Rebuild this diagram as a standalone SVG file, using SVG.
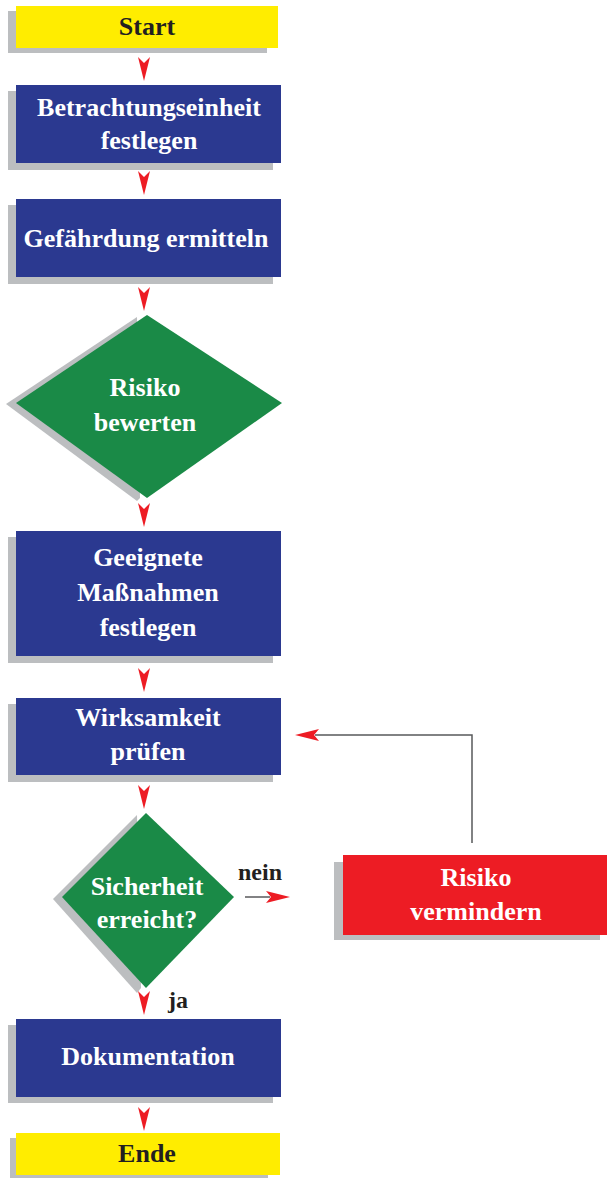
<svg xmlns="http://www.w3.org/2000/svg" width="609" height="1178" viewBox="0 0 609 1178">
<style>
.sh{fill:#BCBEC0}
.yel{fill:#FFED00}
.blu{fill:#2B3990}
.grn{fill:#1A8A47}
.red{fill:#ED1C24}
text{font-family:"Liberation Serif","Times New Roman",serif;font-weight:bold;font-size:26px;text-anchor:middle}
.w{fill:#FFFFFF}
.k{fill:#231F20}
.lbl{font-size:24px}
.ah{fill:#ED1C24}
.ln{stroke:#58595B;stroke-width:1.5;fill:none}
</style>
<defs>
<path id="dn" d="M-6,0 L0,6 L6,0 L0,24 Z"/>
</defs>
<rect width="609" height="1178" fill="#FFFFFF"/>
<g id="start">
<rect class="sh" x="8" y="11" width="259" height="42"/>
<rect class="yel" x="16" y="6" width="262" height="42"/>
<text class="k" x="147" y="35">Start</text>
</g>
<g id="betrachtung">
<rect class="sh" x="8" y="91" width="265" height="79"/>
<rect class="blu" x="16" y="85" width="265" height="78"/>
<text class="w" x="149" y="116">Betrachtungseinheit</text>
<text class="w" x="149" y="149">festlegen</text>
</g>
<g id="gefaehrdung">
<rect class="sh" x="8" y="205" width="265" height="79"/>
<rect class="blu" x="16" y="199" width="265" height="78"/>
<text class="w" x="146" y="247">Gefährdung ermitteln</text>
</g>
<g id="bewerten">
<polygon class="sh" points="137,317 6,404 137,501 140,498"/>
<polygon class="grn" points="147,315 282,403 147,498 16,403"/>
<text class="w" x="145" y="396">Risiko</text>
<text class="w" x="145" y="431">bewerten</text>
</g>
<g id="massnahmen">
<rect class="sh" x="8" y="537" width="265" height="126"/>
<rect class="blu" x="16" y="531" width="265" height="125"/>
<text class="w" x="148" y="566">Geeignete</text>
<text class="w" x="148" y="601">Maßnahmen</text>
<text class="w" x="148" y="636">festlegen</text>
</g>
<g id="wirksamkeit">
<rect class="sh" x="8" y="704" width="265" height="78"/>
<rect class="blu" x="16" y="698" width="265" height="77"/>
<text class="w" x="148" y="726">Wirksamkeit</text>
<text class="w" x="148" y="760">prüfen</text>
</g>
<g id="sicherheit">
<polygon class="sh" points="137,815 53,899 137,993 141,988"/>
<polygon class="grn" points="146,813 234,897 146,988 62,897"/>
<text class="w" x="147" y="895">Sicherheit</text>
<text class="w" x="147" y="928">erreicht?</text>
</g>
<g id="vermindern">
<rect class="sh" x="334" y="862" width="266" height="78"/>
<rect class="red" x="343" y="855" width="264" height="80"/>
<text class="w" x="476" y="886">Risiko</text>
<text class="w" x="476" y="920">vermindern</text>
</g>
<g id="dokumentation">
<rect class="sh" x="8" y="1025" width="265" height="78"/>
<rect class="blu" x="16" y="1019" width="265" height="78"/>
<text class="w" x="148" y="1065">Dokumentation</text>
</g>
<g id="ende">
<rect class="sh" x="10" y="1138" width="258" height="40"/>
<rect class="yel" x="16" y="1133" width="264" height="42"/>
<text class="k" x="147" y="1162">Ende</text>
</g>
<g id="connectors">
<use href="#dn" class="ah" x="144" y="57"/>
<use href="#dn" class="ah" x="144" y="171"/>
<use href="#dn" class="ah" x="144" y="287"/>
<use href="#dn" class="ah" x="144" y="503"/>
<use href="#dn" class="ah" x="144" y="668"/>
<use href="#dn" class="ah" x="144" y="785"/>
<use href="#dn" class="ah" x="144" y="991"/>
<use href="#dn" class="ah" x="144" y="1107"/>
<line class="ln" x1="245" y1="897" x2="270" y2="897"/>
<path class="ah" d="M290,897 L266,891 L271,897 L266,903 Z"/>
<text class="k lbl" x="260" y="880">nein</text>
<text class="k lbl" x="178" y="1008">ja</text>
<polyline class="ln" points="472,843 472,735 315,735"/>
<path class="ah" d="M295,735 L319,729 L314,735 L319,741 Z"/>
</g>
</svg>
